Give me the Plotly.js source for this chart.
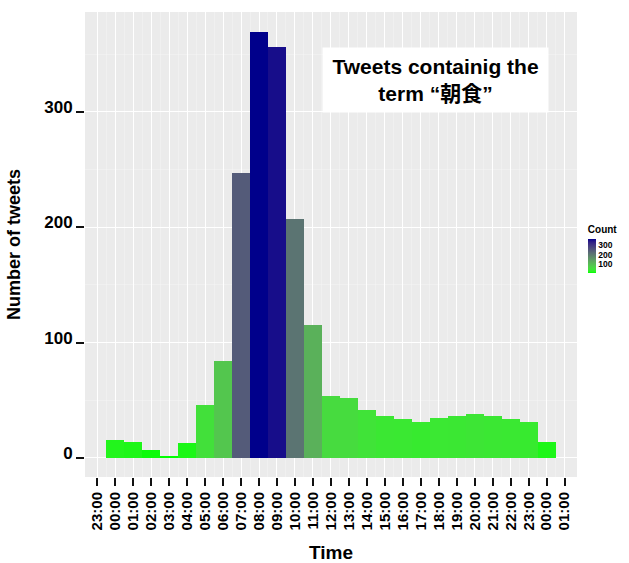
<!DOCTYPE html>
<html>
<head>
<meta charset="utf-8">
<script src="https://cdn.plot.ly/plotly-3.0.1.min.js"></script>
<style>html,body{margin:0;padding:0;background:#fff;}#chart{width:629px;height:563px;}</style>
</head>
<body>
<div id="chart"></div>
<script>
// ---- data ----
const hours = ["00:00","01:00","02:00","03:00","04:00","05:00","06:00","07:00","08:00","09:00","10:00","11:00",
               "12:00","13:00","14:00","15:00","16:00","17:00","18:00","19:00","20:00","21:00","22:00","23:00","00:00"];
const counts = [16,14,7,2,13,46,84,247,369,356,207,115,54,52,42,36,34,31,35,36,38,36,34,31,14];
const tickLabels = ["23:00","00:00","01:00","02:00","03:00","04:00","05:00","06:00","07:00","08:00","09:00","10:00","11:00",
                    "12:00","13:00","14:00","15:00","16:00","17:00","18:00","19:00","20:00","21:00","22:00","23:00","00:00","01:00"];
const yTicks = [0,100,200,300];
const cbTicks = [100,200,300];

// ---- Lab-interpolated gradient (green -> darkblue), like ggplot2 ----
function toLin(c){c/=255;return c<=0.04045?c/12.92:Math.pow((c+0.055)/1.055,2.4);}
function fromLin(c){c=c<=0.0031308?12.92*c:1.055*Math.pow(c,1/2.4)-0.055;return Math.max(0,Math.min(255,Math.round(c*255)));}
const Wn=[0.95047,1,1.08883];
function f(t){return t>0.008856?Math.cbrt(t):7.787*t+16/116;}
function fi(t){return t>0.206893?t*t*t:(t-16/116)/7.787;}
function hex2lab(h){const r=toLin(parseInt(h.substr(1,2),16)),g=toLin(parseInt(h.substr(3,2),16)),b=toLin(parseInt(h.substr(5,2),16));
  const X=(0.4124*r+0.3576*g+0.1805*b)/Wn[0],Y=(0.2126*r+0.7152*g+0.0722*b)/Wn[1],Z=(0.0193*r+0.1192*g+0.9505*b)/Wn[2];
  return [116*f(Y)-16,500*(f(X)-f(Y)),200*(f(Y)-f(Z))];}
function lab2rgb(L){const fy=(L[0]+16)/116,fx=fy+L[1]/500,fz=fy-L[2]/200;
  const X=fi(fx)*Wn[0],Y=fi(fy)*Wn[1],Z=fi(fz)*Wn[2];
  const r=3.2406*X-1.5372*Y-0.4986*Z,g=-0.9689*X+1.8758*Y+0.0415*Z,b=0.0557*X-0.2040*Y+1.0570*Z;
  return 'rgb('+fromLin(r)+','+fromLin(g)+','+fromLin(b)+')';}
const lowC=hex2lab('#00FF00'), highC=hex2lab('#00008B');
const scale=[];
for(let i=0;i<=20;i++){const t=i/20;scale.push([t,lab2rgb([0,1,2].map(k=>lowC[k]+(highC[k]-lowC[k])*t))]);}

const xs = hours.map((h,i)=>i+1);
const xTickVals = tickLabels.map((t,i)=>i);
const xMinor = tickLabels.slice(1).map((t,i)=>i+0.5);
const yMinor = [50,150,250,350];

const FONT = "Liberation Sans, Arial, Helvetica, 'Noto Sans CJK JP', sans-serif";

const trace = {
  type:'bar', x: xs, y: counts, width: 1,
  customdata: hours,
  hovertemplate:'%{customdata}: %{y}<extra></extra>',
  marker:{color: counts, colorscale: scale, cmin: Math.min(...counts), cmax: Math.max(...counts),
    line:{width:0},
    showscale:true,
    colorbar:{x:1.022, xanchor:'left', y:0.4925, yanchor:'middle', len:50, lenmode:'pixels', thickness:8,
      outlinewidth:0, ypad:0, xpad:0, tickvals: cbTicks, ticks:'', ticklabelposition:'outside',
      tickfont:{family:FONT, size:8.5, color:'#000', weight:'bold'},
      title:{text:'Count', side:'top', font:{family:FONT, size:10, color:'#000', weight:'bold'}}}}
};

const layout = {
  width:629, height:563,
  margin:{l:85, r:43, t:12, b:86},
  paper_bgcolor:'#ffffff', plot_bgcolor:'#EBEBEB',
  bargap:0, showlegend:false,
  font:{family:FONT, color:'#000'},
  xaxis:{range:[-0.68,26.69], tickmode:'array', tickvals:xTickVals, ticktext:tickLabels, tickangle:-90,
    showgrid:true, gridcolor:'#ffffff', gridwidth:1, zeroline:false, showline:false,
    ticks:'outside', ticklen:8, tickwidth:2, tickcolor:'#111',
    minor:{tickvals:xMinor, showgrid:true, gridcolor:'#F5F5F5', gridwidth:0.5, ticks:''},
    tickfont:{family:FONT, size:15, color:'#000', weight:'bold'},
    title:{text:'Time', standoff:20, font:{family:FONT, size:19, color:'#000', weight:'bold'}}},
  yaxis:{range:[-16.5,386.7], tickmode:'array', tickvals:yTicks,
    showgrid:true, gridcolor:'#ffffff', gridwidth:1, zeroline:false, showline:false,
    ticks:'outside', ticklen:8, tickwidth:2, tickcolor:'#111', ticklabelshift:-5, ticklabelstandoff:0,
    minor:{tickvals:yMinor, showgrid:true, gridcolor:'#F5F5F5', gridwidth:0.5, ticks:''},
    tickfont:{family:FONT, size:17, color:'#000', weight:'bold'},
    title:{text:'Number of tweets', standoff:18, font:{family:FONT, size:18, color:'#000', weight:'bold'}}},
  annotations:[{xref:'paper', yref:'paper', x:0.712, y:0.854, xanchor:'center', yanchor:'middle',
    text:'Tweets containig the<br>term “朝食”', showarrow:false, align:'center',
    bgcolor:'#ffffff', width:221, height:60, borderpad:2,
    font:{family:FONT, size:21, color:'#000', weight:'bold'}}]
};

Plotly.newPlot('chart',[trace],layout,{displayModeBar:false, staticPlot:true});
</script>
</body>
</html>
